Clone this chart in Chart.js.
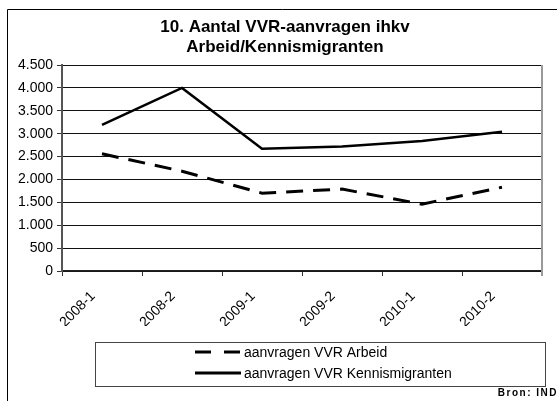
<!DOCTYPE html>
<html>
<head>
<meta charset="utf-8">
<script src="https://cdn.jsdelivr.net/npm/chart.js@4"></script>
<style>
  html, body { margin: 0; padding: 0; background: #fff; }
  #wrap { position: relative; width: 557px; height: 401px; }
</style>
</head>
<body>
<div id="wrap"><canvas id="vvrChart" width="557" height="401"></canvas></div>
<script>
// Data
const periods = ["2008-1", "2008-2", "2009-1", "2009-2", "2010-1", "2010-2"];
const arbeidValues = [2560, 2180, 1700, 1790, 1460, 1830];
const kennisValues = [3190, 4000, 2670, 2720, 2840, 3040];
const yTicks = [0, 500, 1000, 1500, 2000, 2500, 3000, 3500, 4000, 4500];
const seriesLabels = ["aanvragen VVR Arbeid", "aanvragen VVR Kennismigranten"];
const titleLines = ["10. Aantal VVR-aanvragen ihkv", "Arbeid/Kennismigranten"];
const sourceText = "Bron: IND";

const fontFamily = '"Liberation Sans", Arial, sans-serif';

// Dutch thousands separator
function formatNumber(value) {
  return String(value).replace(/\B(?=(\d{3})+(?!\d))/g, ".");
}

// Frame, title, right border of plot, legend box and source note
const decorations = {
  id: "decorations",
  afterDraw(chart) {
    const ctx = chart.ctx;
    const area = chart.chartArea;
    ctx.save();
    // outer frame (left and top edge only, the rest is cropped)
    ctx.strokeStyle = "#000";
    ctx.lineWidth = 1;
    ctx.beginPath();
    ctx.moveTo(7.5, chart.height);
    ctx.lineTo(7.5, 9.5);
    ctx.lineTo(chart.width, 9.5);
    ctx.stroke();

    // title, two lines
    ctx.fillStyle = "#000";
    ctx.font = "bold 17px " + fontFamily;
    ctx.textAlign = "center";
    ctx.textBaseline = "middle";
    titleLines.forEach((line, i) => {
      ctx.fillText(line, 285, 27 + i * 20);
    });

    // grey right border of the plot area
    ctx.strokeStyle = "#9a9a9a";
    ctx.lineWidth = 2;
    ctx.beginPath();
    ctx.moveTo(area.right, area.top);
    ctx.lineTo(area.right, area.bottom + 5);
    ctx.stroke();

    // legend box
    ctx.strokeStyle = "#444";
    ctx.lineWidth = 1;
    ctx.strokeRect(95.5, 342.5, 450, 44);
    ctx.font = "14px " + fontFamily;
    ctx.textAlign = "left";
    chart.data.datasets.forEach((ds, i) => {
      const y = 352 + i * 21;
      ctx.strokeStyle = "#000";
      ctx.lineWidth = 3;
      ctx.setLineDash(ds.borderDash && ds.borderDash.length ? [16, 13] : []);
      ctx.beginPath();
      ctx.moveTo(195, y);
      ctx.lineTo(241, y);
      ctx.stroke();
      ctx.setLineDash([]);
      ctx.fillText(ds.label, 244, y + 1);
    });

    // source note
    ctx.font = "bold 10px " + fontFamily;
    ctx.letterSpacing = "1.5px";
    ctx.textAlign = "right";
    ctx.fillText(sourceText, 558, 393);
    ctx.restore();
  },
};

new Chart(document.getElementById("vvrChart"), {
  type: "line",
  data: {
    labels: periods,
    datasets: [
      {
        label: seriesLabels[0],
        data: arbeidValues,
        borderColor: "#000",
        borderWidth: 3,
        borderDash: [17, 10],
        pointRadius: 0,
        tension: 0,
        fill: false,
      },
      {
        label: seriesLabels[1],
        data: kennisValues,
        borderColor: "#000",
        borderWidth: 2.5,
        pointRadius: 0,
        tension: 0,
        fill: false,
      },
    ],
  },
  options: {
    responsive: false,
    animation: false,
    layout: {
      padding: { top: 65, left: 8, right: 15, bottom: 75 },
    },
    plugins: {
      legend: { display: false },
      tooltip: { enabled: false },
      title: { display: false },
    },
    scales: {
      x: {
        offset: true,
        afterFit: (scale) => {
          scale.height = 55;
        },
        grid: {
          offset: true,
          drawOnChartArea: false,
          drawTicks: true,
          tickLength: 5,
          tickColor: "#333",
        },
        border: { color: "#222", width: 1.5 },
        ticks: {
          color: "#000",
          font: { family: fontFamily, size: 14 },
          minRotation: 45,
          maxRotation: 45,
          labelOffset: -9,
          padding: 12,
        },
      },
      y: {
        min: 0,
        max: 4500,
        afterFit: (scale) => {
          scale.width = 54;
        },
        afterBuildTicks: (scale) => {
          scale.ticks = yTicks.map((v) => ({ value: v }));
        },
        grid: {
          color: "#111",
          lineWidth: 1,
          drawTicks: true,
          tickLength: 5,
          tickColor: "#333",
        },
        border: { color: "#555", width: 2 },
        ticks: {
          color: "#000",
          font: { family: fontFamily, size: 14 },
          padding: 4,
          callback: function (value) {
            return formatNumber(value);
          },
        },
      },
    },
  },
  plugins: [decorations],
});
</script>
</body>
</html>
